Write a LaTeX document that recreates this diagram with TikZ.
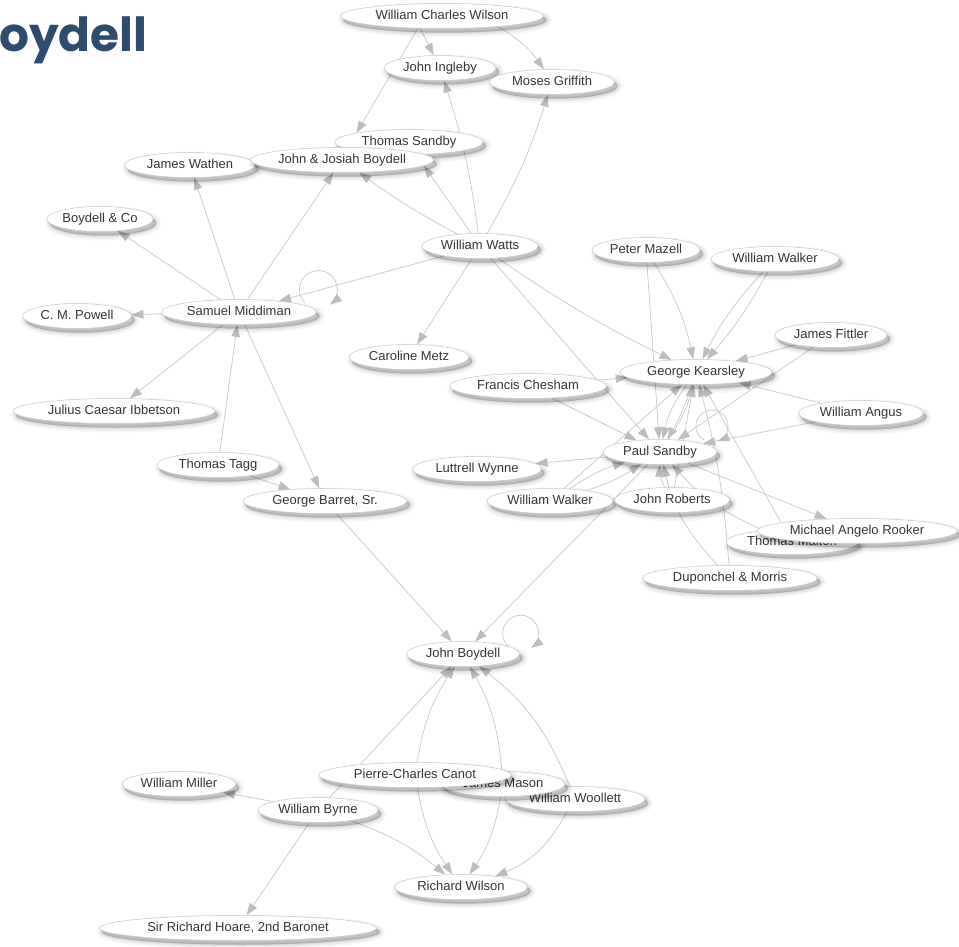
\documentclass[tikz,border=0pt]{standalone}
\usepackage{fontspec}
\setmainfont{Liberation Sans}
\newfontfamily\titlefont{Poppins}
\usetikzlibrary{shapes.geometric,arrows.meta,calc}
\definecolor{edgegray}{HTML}{C9C9C9}
\definecolor{tipgray}{HTML}{BDBDBD}
\definecolor{nodeborder}{HTML}{C8C8C8}
\definecolor{labelgray}{HTML}{363636}
\definecolor{titleblue}{HTML}{2F4B6E}
\pgfdeclarelayer{bg}
\pgfsetlayers{bg,main}
\tikzset{
  shadowlayer/.style 2 args={preaction={draw=black, fill=black, opacity=#1,
    line width=#2, transform canvas={shift={(3pt,-4pt)}}}},
  person/.style={ellipse, draw=nodeborder, line width=0.5pt, fill=white,
    inner sep=0pt, minimum height=25pt, text height=9.5pt, text depth=2.5pt,
    font=\fontsize{13}{15}\selectfont, text=labelgray,
    shadowlayer={0.03}{10pt}, shadowlayer={0.04}{6.5pt},
    shadowlayer={0.05}{3.5pt}, shadowlayer={0.07}{1pt}},
  rel/.style={draw=edgegray, line width=0.7pt,
    -{Triangle[length=12pt,width=8.5pt,color=tipgray]}},
}
\begin{document}
\begin{tikzpicture}[x=1pt,y=1pt]
\begin{pgfonlayer}{bg}
\fill[white] (0,0) rectangle (959,-947);
\end{pgfonlayer}
\useasboundingbox (0,0) rectangle (959,-947);

\node[anchor=base west, inner sep=0pt, text=titleblue,
  font=\titlefont\bfseries\fontsize{47}{50}\selectfont] (title) at (-1,-52) {oydell};

\node[person, minimum width=203pt] (wcw) at (442,-16) {William Charles Wilson};
\node[person, minimum width=112pt] (ji) at (440,-68) {John Ingleby};
\node[person, minimum width=125pt] (mg) at (552,-82) {Moses Griffith};
\node[person, minimum width=131pt] (jw) at (190,-165) {James Wathen};
\node[person, minimum width=148pt] (ts) at (409,-142) {Thomas Sandby};
\node[person, minimum width=183pt] (jjb) at (342,-160) {John \& Josiah Boydell};
\node[person, minimum width=100pt] (bco) at (100,-219) {Boydell \& Co};
\node[person, minimum width=116pt] (ww) at (480,-246) {William Watts};
\node[person, minimum width=108pt] (pm) at (646,-250) {Peter Mazell};
\node[person, minimum width=128pt] (wwk1) at (775,-259) {William Walker};
\node[person, minimum width=155pt] (sm) at (239,-312) {Samuel Middiman};
\node[person, minimum width=109pt] (cmp) at (77,-316) {C. M. Powell};
\node[person, minimum width=112pt] (jf) at (831,-335) {James Fittler};
\node[person, minimum width=120pt] (cm) at (409,-357) {Caroline Metz};
\node[person, minimum width=152pt] (gk) at (696,-372) {George Kearsley};
\node[person, minimum width=157pt] (fc) at (528,-386) {Francis Chesham};
\node[person, minimum width=202pt] (jci) at (114,-411) {Julius Caesar Ibbetson};
\node[person, minimum width=125pt] (wa) at (861,-413) {William Angus};
\node[person, minimum width=114pt] (ps) at (660,-452) {Paul Sandby};
\node[person, minimum width=129pt] (lw) at (477,-469) {Luttrell Wynne};
\node[person, minimum width=122pt] (tt) at (218,-465) {Thomas Tagg};
\node[person, minimum width=164pt] (gb) at (325,-501) {George Barret, Sr.};
\node[person, minimum width=126pt] (wwk2) at (550,-501) {William Walker};
\node[person, minimum width=115pt] (jr) at (672,-500) {John Roberts};
\node[person, minimum width=132pt] (tm) at (792,-542) {Thomas Malton};
\node[person, minimum width=200pt] (mar) at (857,-531) {Michael Angelo Rooker};
\node[person, minimum width=175pt] (dm) at (730,-578) {Duponchel \& Morris};
\node[person, minimum width=113pt] (jb) at (463,-654) {John Boydell};
\node[person, minimum width=140pt] (wwo) at (575,-799) {William Woollett};
\node[person, minimum width=124pt] (jm) at (503,-784) {James Mason};
\node[person, minimum width=192pt] (pcc) at (415,-775) {Pierre-Charles Canot};
\node[person, minimum width=114pt] (wmi) at (179,-784) {William Miller};
\node[person, minimum width=120pt] (wby) at (318,-810) {William Byrne};
\node[person, minimum width=133pt] (rw) at (461,-887) {Richard Wilson};
\node[person, minimum width=277pt] (srh) at (238,-928) {Sir Richard Hoare, 2nd Baronet};

\begin{pgfonlayer}{bg}
% top
\draw[rel] ($(wcw)+(-22,-12)$) -- (ji);
\draw[rel] ($(wcw)+(55,-10)$) to[bend left=12] (mg);
\draw[rel] ($(wcw)+(-24,-12)$) -- (ts.north west);
\draw[rel] (ww) to[bend right=5] (ji);
\draw[rel] (ww) to[bend right=6] (mg);
\draw[rel] (ww) to[bend left=4] (jjb);
\draw[rel] (ww) -- (jjb.-4);
\draw[rel] (ww) -- (sm);
\draw[rel] (ww) -- (cm);
\draw[rel] (ww) to[bend right=4] (gk);
\draw[rel] (ww) -- (ps);
% Samuel Middiman
\draw[rel] (sm) -- (jw);
\draw[rel] (sm) -- (jjb);
\draw[rel] (sm) -- (bco);
\draw[rel] (sm) -- (cmp);
\draw[rel] (sm) -- (jci);
\draw[rel] (sm) -- (gb);
\draw[rel] (tt) -- (sm);
\draw[rel] (tt) -- (gb);
\draw[rel] ($(sm)+(66,9)$) arc[start angle=225, end angle=-53, radius=19];
% Kearsley / Sandby cluster
\draw[rel] (pm) to[bend left=10] (gk);
\draw[rel] (pm) -- (ps);
\draw[rel] (wwk1) to[bend right=8] (gk);
\draw[rel] (wwk1) to[bend left=6] (gk);
\draw[rel] (jf) -- (gk);
\draw[rel] (jf) -- (ps);
\draw[rel] (wa) -- (gk);
\draw[rel] (wa) -- (ps);
\draw[rel] (fc) -- (gk);
\draw[rel] (fc) -- (ps);
\draw[rel] (gk) to[bend right=12] (ps);
\draw[rel] (gk) to[bend left=6] (ps);
\draw[rel] (ps) to[bend right=10] (gk);
\draw[rel] (wwk2) -- (gk);
\draw[rel] (wwk2) to[bend left=8] (ps);
\draw[rel] (wwk2) to[bend right=8] (ps);
\draw[rel] (jr) to[bend left=15] (ps);
\draw[rel] (jr) -- (ps);
\draw[rel] (jr) -- (gk);
\draw[rel] (dm) to[bend left=15] (ps);
\draw[rel] (dm) to[bend right=5] (gk);
\draw[rel] (tm) -- (gk);
\draw[rel] (tm) to[bend left=12] (ps);
\draw[rel] (ps) -- (mar);
\draw[rel] (ps) -- (lw);
\draw[rel] (ps) -- (jb);
\draw[rel] (gb) -- (jb);
\draw[rel] ($(ps)+(44,12)$) arc[start angle=240, end angle=-70, radius=16];
% bottom
\draw[rel] (wby) -- (jb);
\draw[rel] (pcc) to[bend left=12] (jb);
\draw[rel] (jm) to[bend right=12] (jb);
\draw[rel] (wwo) to[bend right=15] (jb);
\draw[rel] (pcc) to[bend right=12] (rw);
\draw[rel] (jm) to[bend left=12] (rw);
\draw[rel] (wwo) to[bend left=20] (rw);
\draw[rel] (wby) to[bend left=10] (rw);
\draw[rel] (wby) -- (wmi);
\draw[rel] (wby) -- (srh);
\draw[rel] ($(jb)+(45,8)$) arc[start angle=225, end angle=-55, radius=18];
\end{pgfonlayer}
\end{tikzpicture}
\end{document}
